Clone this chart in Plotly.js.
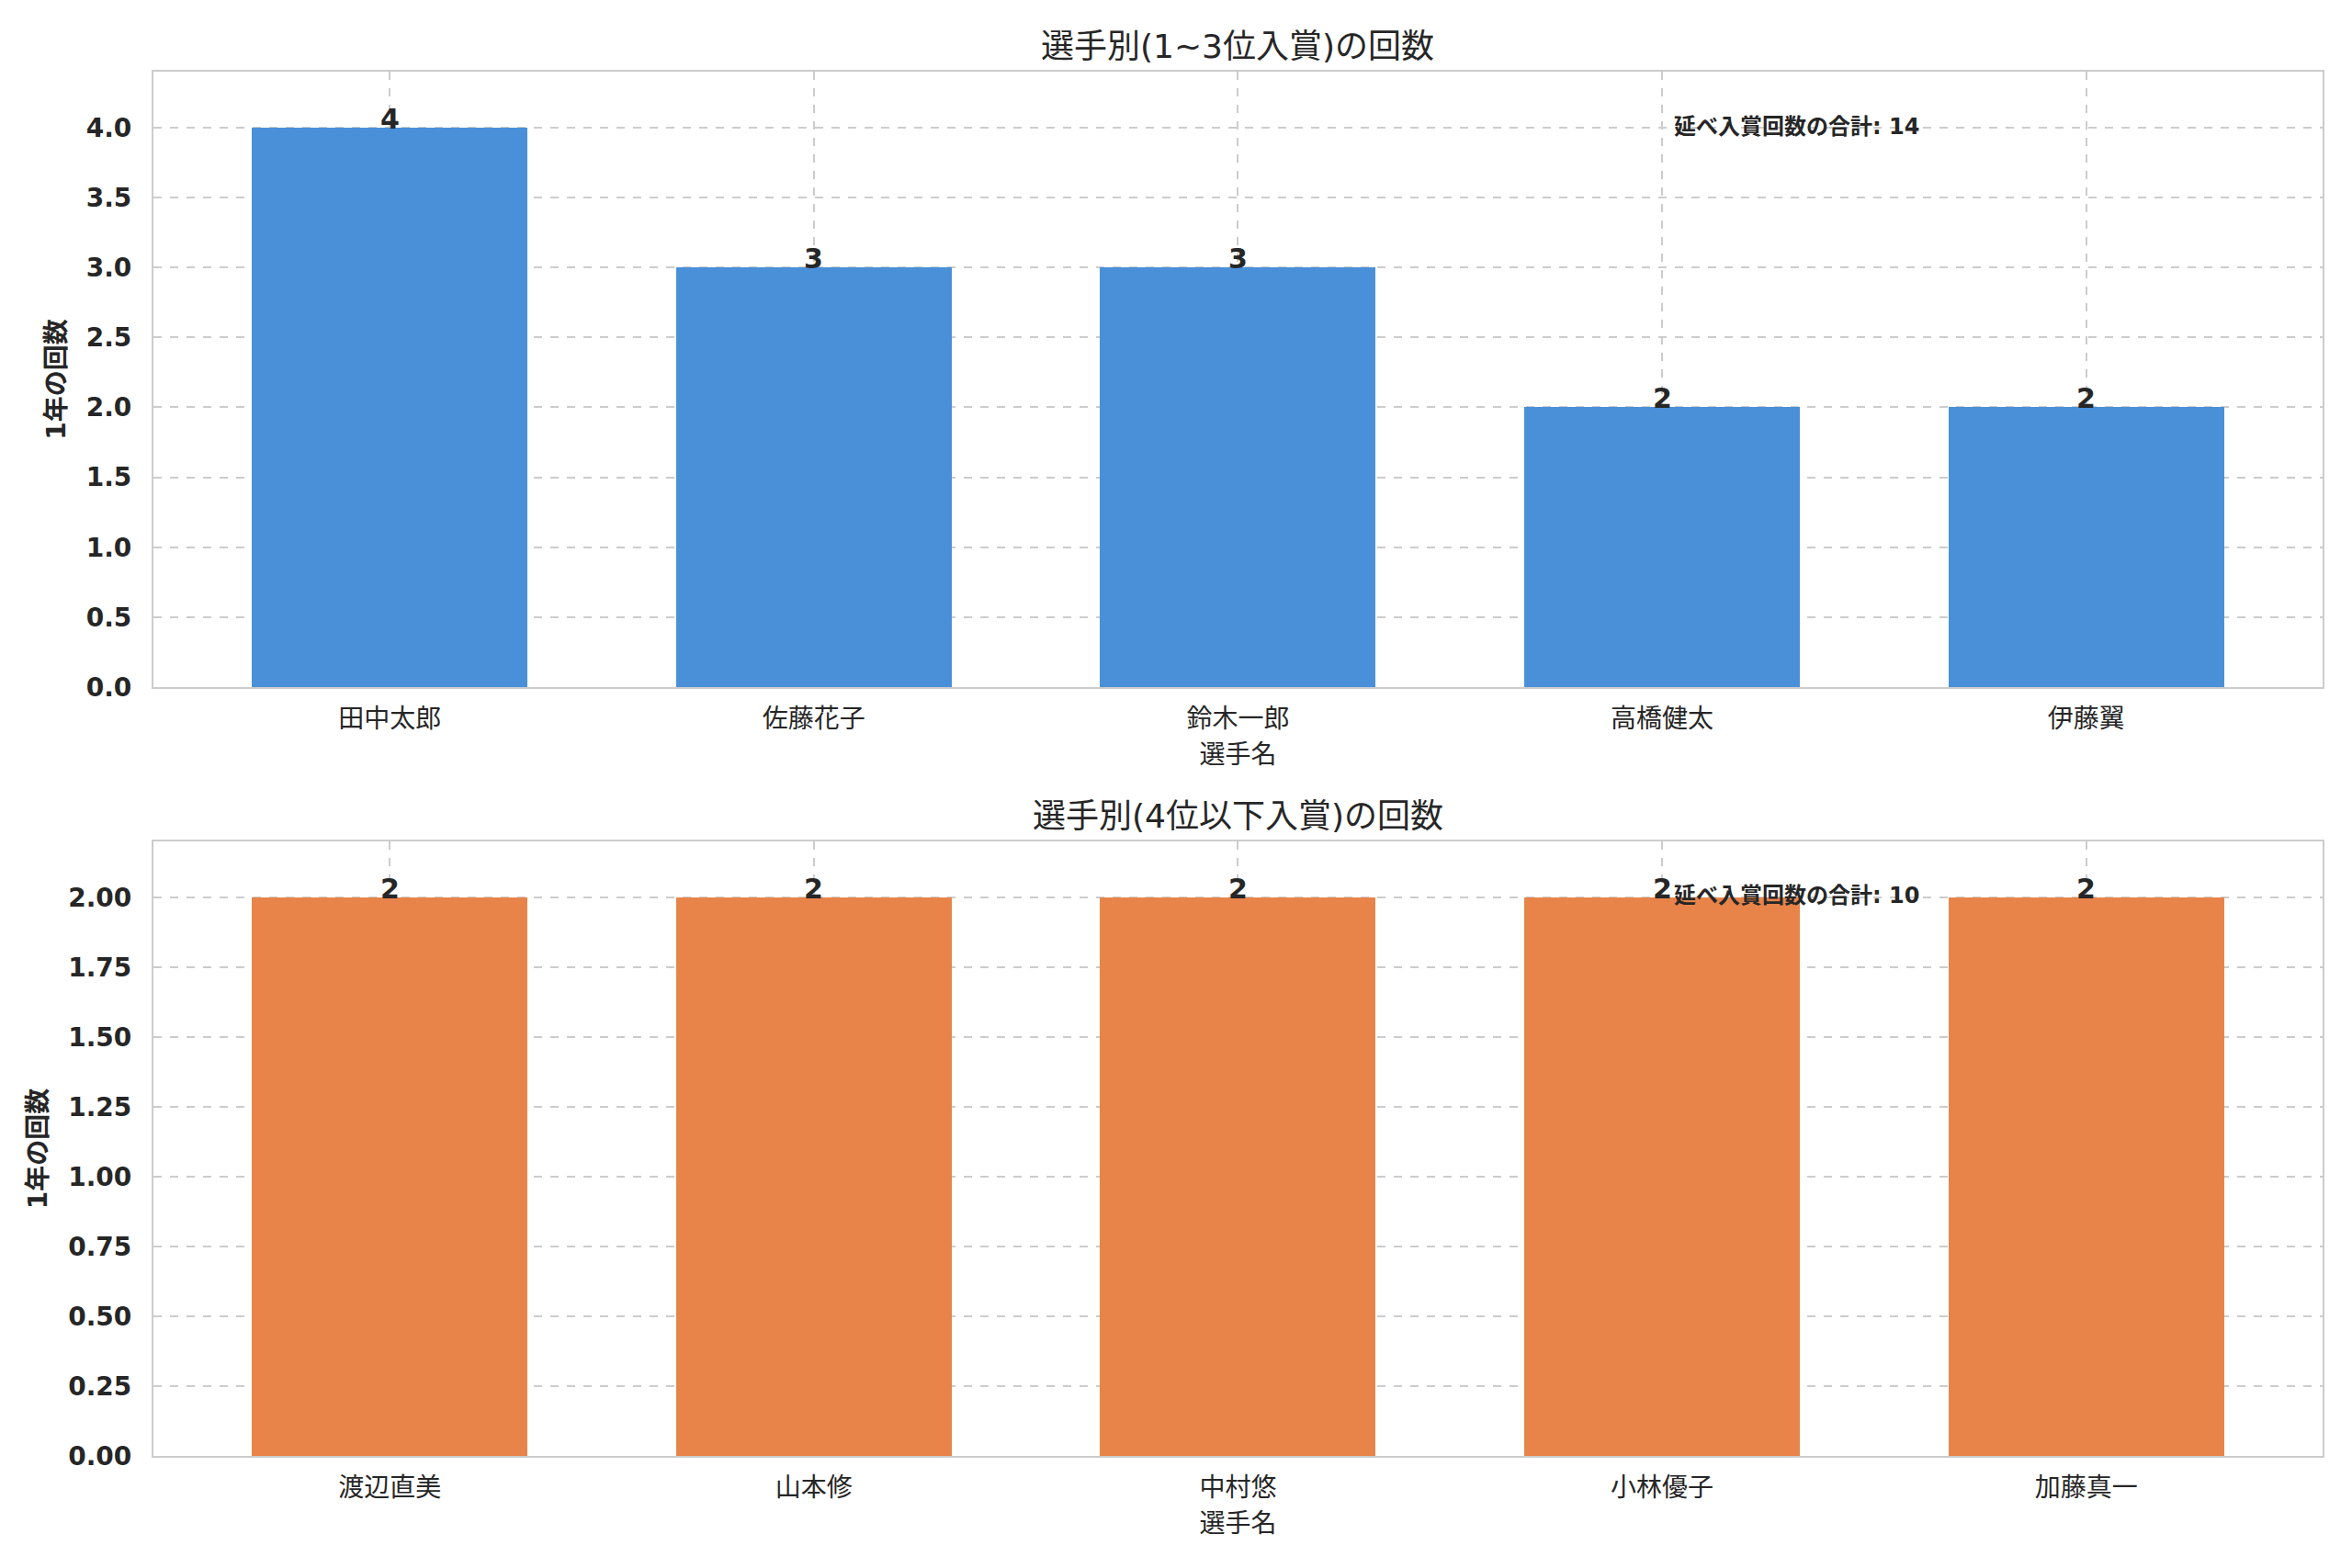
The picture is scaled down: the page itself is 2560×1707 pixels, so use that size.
<!DOCTYPE html>
<html>
<head>
<meta charset="utf-8">
<script src="https://cdn.plot.ly/plotly-3.0.1.min.js"></script>
<style>
  html, body { margin: 0; padding: 0; background: #fff; }
  #chart { width: 2560px; height: 1707px; }
</style>
</head>
<body>
<div id="chart"></div>
<script>
// top chart: 1~3 place finishers
var topNames = ["田中太郎", "佐藤花子", "鈴木一郎", "高橋健太", "伊藤翼"];
var topCounts = [4, 3, 3, 2, 2];
var topTitle = "選手別(1~3位入賞)の回数";
var topTotalLabel = "延べ入賞回数の合計: 14";

// bottom chart: 4th place and below
var lowNames = ["渡辺直美", "山本修", "中村悠", "小林優子", "加藤真一"];
var lowCounts = [2, 2, 2, 2, 2];
var lowTitle = "選手別(4位以下入賞)の回数";
var lowTotalLabel = "延べ入賞回数の合計: 10";

var yLabel = "1年の回数";
var xLabel = "選手名";

var FONT = "DejaVu Sans, Noto Sans CJK JP, sans-serif";
var INK = "#262626";
var GRID = "#cccccc";

var topDom = [0.5618, 0.9543];
var lowDom = [0.0715, 0.4634];
var xDom = [0.0652, 0.9875];

function idx(arr) {
    var out = [];
    for (let i = 0; i < arr.length; i++) out.push(i);
    return out;
}

var traceTop = {
    x: idx(topNames), y: topCounts, type: "bar",
    width: 0.65, marker: {color: "#4A90D9"},
    xaxis: "x", yaxis: "y", hoverinfo: "skip"
};
var traceLow = {
    x: idx(lowNames), y: lowCounts, type: "bar",
    width: 0.65, marker: {color: "#E8844A"},
    xaxis: "x2", yaxis: "y2", hoverinfo: "skip"
};

function xAxis(names, anchor) {
    return {
        domain: xDom, anchor: anchor,
        range: [-0.5575, names.length - 1 + 0.5575],
        tickmode: "array", tickvals: idx(names), ticktext: names,
        tickfont: {family: FONT, size: 28, color: INK},
        ticklabelstandoff: 8,
        showgrid: true, gridcolor: GRID, gridwidth: 2, griddash: "dash",
        showline: true, mirror: true, linecolor: GRID, linewidth: 2,
        zeroline: false,
        title: {text: xLabel, font: {family: FONT, size: 28, color: INK}, standoff: 14}
    };
}

function yAxis(dom, anchor, top, step, fmt) {
    return {
        domain: dom, anchor: anchor,
        range: [0, top], dtick: step, tick0: 0, tickformat: fmt,
        tickfont: {family: FONT, size: 28, color: INK, weight: "bold"},
        ticklabelstandoff: 16,
        showgrid: true, gridcolor: GRID, gridwidth: 2, griddash: "dash",
        showline: true, mirror: true, linecolor: GRID, linewidth: 2,
        zeroline: false,
        title: {text: yLabel, font: {family: FONT, size: 28, color: INK, weight: "bold"}, standoff: 14}
    };
}

var annotations = [];

function valueLabels(counts, xr, yr) {
    for (let i = 0; i < counts.length; i++) {
        annotations.push({
            x: i, y: counts[i], xref: xr, yref: yr,
            text: String(counts[i]), showarrow: false,
            xanchor: "center", yanchor: "bottom", yshift: -10,
            font: {family: FONT, size: 30, color: INK, weight: "bold"}
        });
    }
}
valueLabels(topCounts, "x", "y");
valueLabels(lowCounts, "x2", "y2");

function subTitle(text, dom) {
    annotations.push({
        x: (xDom[0] + xDom[1]) / 2, y: dom[1], xref: "paper", yref: "paper",
        text: text, showarrow: false, xanchor: "center", yanchor: "bottom", yshift: 5,
        font: {family: FONT, size: 36, color: INK}
    });
}
subTitle(topTitle, topDom);
subTitle(lowTitle, lowDom);

function totalNote(text, xr, yr) {
    annotations.push({
        x: 0.70, y: 0.935, xref: xr + " domain", yref: yr + " domain",
        text: text, showarrow: false, xanchor: "left", yanchor: "top",
        font: {family: FONT, size: 24, color: INK, weight: "bold"}
    });
}
totalNote(topTotalLabel, "x", "y");
totalNote(lowTotalLabel, "x2", "y2");

var layout = {
    width: 2560, height: 1707,
    margin: {l: 0, r: 0, t: 0, b: 0},
    paper_bgcolor: "#ffffff", plot_bgcolor: "#ffffff",
    showlegend: false, bargap: 0,
    xaxis: xAxis(topNames, "y"),
    yaxis: yAxis(topDom, "x", 4.4, 0.5, ".1f"),
    xaxis2: xAxis(lowNames, "y2"),
    yaxis2: yAxis(lowDom, "x2", 2.2, 0.25, ".2f"),
    annotations: annotations
};

Plotly.newPlot("chart", [traceTop, traceLow], layout, {staticPlot: true});
</script>
</body>
</html>
